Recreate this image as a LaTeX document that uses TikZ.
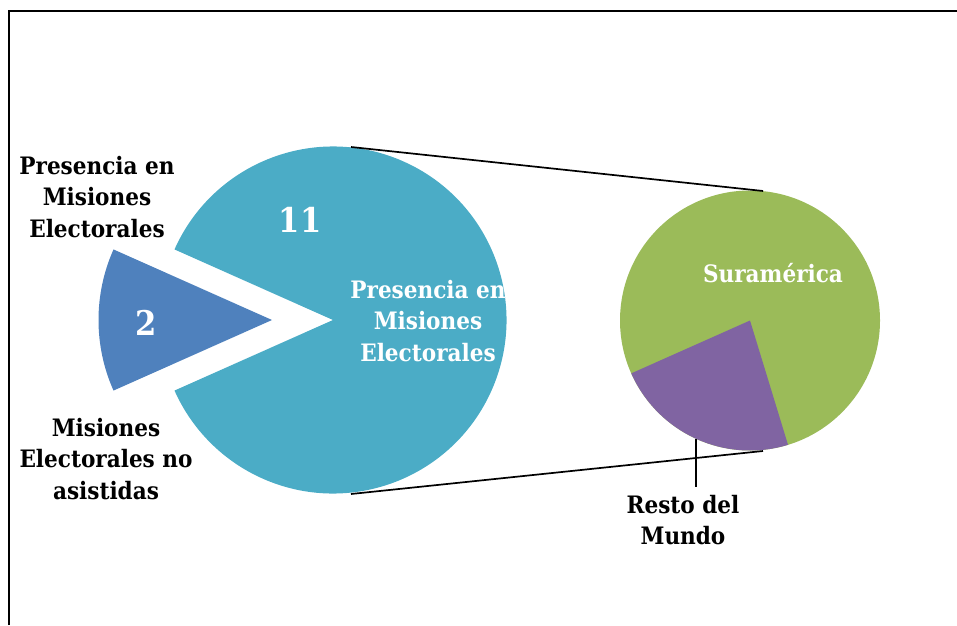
\documentclass[tikz,border=0pt]{standalone}
\usepackage{fontspec}
\setmainfont{DejaVu Serif Condensed}
\definecolor{teal}{HTML}{4BACC6}
\definecolor{wedgeblue}{HTML}{4F81BD}
\definecolor{olive}{HTML}{9BBB59}
\definecolor{violet}{HTML}{8064A2}
\tikzset{
  lbl/.style={align=center,font=\fontsize{24}{31.5}\selectfont\bfseries,inner sep=0pt},
  wlbl/.style={lbl,text=white},
  num/.style={font=\fontsize{34}{38}\selectfont\bfseries,text=white,inner sep=0pt},
  conn/.style={draw=black,line width=1.7pt},
}
\begin{document}
\begin{tikzpicture}[x=1pt,y=1pt]
\useasboundingbox (0,0) rectangle (957,625);
% frame
\draw[line width=2pt] (9,0) -- (9,614) -- (957,614);
% main pie
\coordinate (c1) at (333,305);
\fill[teal] (c1) -- ++(156:173.5) arc[start angle=156,end angle=-156,radius=173.5] -- cycle;
% exploded wedge
\coordinate (c2) at (272,305);
\fill[wedgeblue] (c2) -- ++(156:173.5) arc[start angle=156,end angle=204,radius=173.5] -- cycle;
% second pie
\coordinate (c3) at (750,304.5);
\fill[olive] (c3) circle[radius=130];
\fill[violet] (c3) -- ++(204:130) arc[start angle=204,end angle=287,radius=130] -- cycle;
% connector lines
\coordinate (t1) at (351,478);
\coordinate (t2) at (763,434);
\coordinate (b1) at (351,131);
\coordinate (b2) at (763,174);
\draw[conn] (t1) -- (t2);
\draw[conn] (b1) -- (b2);
% labels
\node[lbl] (lp) at (97,428) {Presencia en\\Misiones\\Electorales};
\node[lbl] (lm) at (106,166) {Misiones\\Electorales no\\asistidas};
\node[num] (n11) at (300,405) {11};
\node[num] (n2) at (146,302) {2};
\begin{scope}
\clip (c1) -- ++(156:173.5) arc[start angle=156,end angle=-156,radius=173.5] -- cycle;
\node[wlbl] (lin) at (428,304) {Presencia en\\Misiones\\Electorales};
\end{scope}
\node[wlbl] (ls) at (773,352) {Suramérica};
\node[lbl] (lr) at (683,105) {Resto del\\Mundo};
\coordinate (r1) at (696,186);
\coordinate (r2) at (696,138);
\draw[conn] (r1) -- (r2);
\end{tikzpicture}
\end{document}
